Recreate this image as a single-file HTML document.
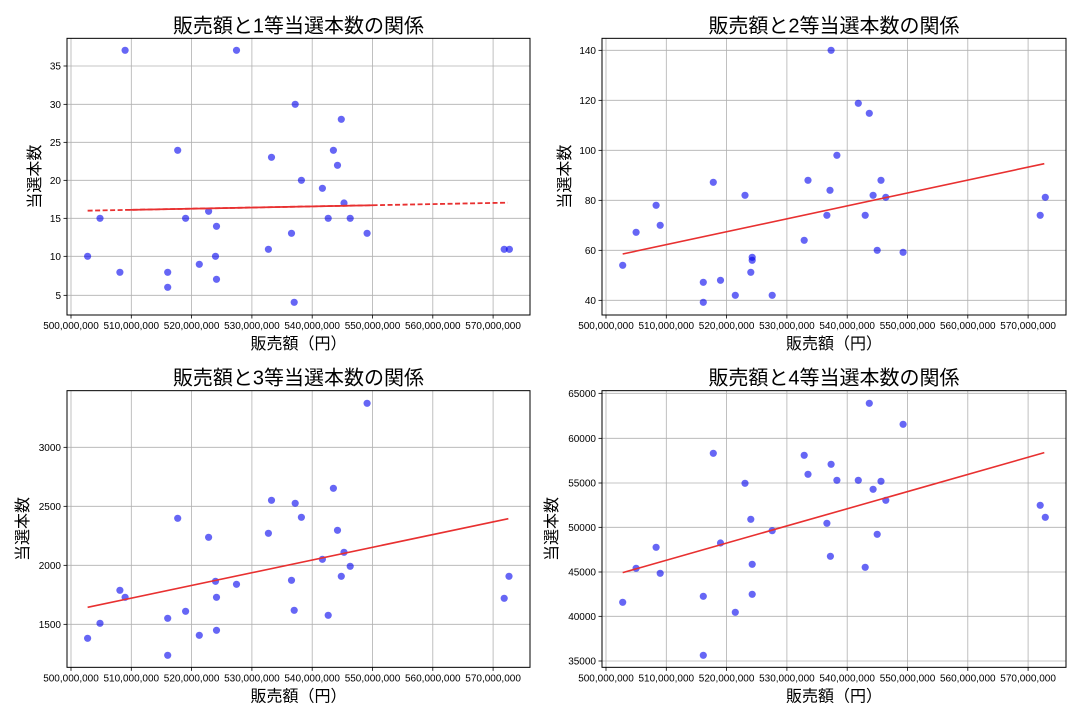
<!DOCTYPE html>
<html><head><meta charset="utf-8"><style>
html,body{margin:0;padding:0;background:#fff;}
svg{display:block;font-family:"Liberation Sans","Noto Sans CJK JP",sans-serif;}
</style></head><body>
<svg id="s" width="1080" height="720" xmlns="http://www.w3.org/2000/svg"></svg>
<script>
var S=document.getElementById('s'),out='';
var panels=[
{left:true,oy:0,ax:[193,1540],ay:[115,945],title:"販売額と1等当選本数の関係",lx:34,
 ticks:[[35,198],[30,313],[25,427],[20,541],[15,655],[10,769],[5,886]],
 pts:[[362,151],[686,151],[857,313],[991,358],[515,451],[968,451],[788,472],[980,496],[875,541],[936,565],[999,609],[605,634],[289,655],[538,655],[953,655],[1017,655],[628,679],[846,700],[1066,700],[779,748],[1465,748],[1480,748],[253,769],[625,769],[578,793],[347,817],[486,817],[628,838],[486,862],[854,907]],
 line:[[253,632],[1475,608]],dash:true},
{left:false,oy:0,ax:[178,1525],ay:[115,945],title:"販売額と2等当選本数の関係",lx:564,
 ticks:[[140,151],[120,301],[100,451],[80,601],[60,751],[40,901]],
 pts:[[843,151],[922,310],[954,340],[860,466],[501,547],[776,541],[988,541],[840,571],[593,586],[965,586],[1002,592],[1465,592],[335,616],[831,646],[942,646],[1450,646],[347,676],[277,697],[765,721],[977,751],[1052,757],[614,772],[614,781],[238,796],[610,817],[472,847],[522,841],[565,886],[672,886],[472,907]],
 line:[[238,762],[1462,491]]},
{left:true,oy:360,ax:[193,1540],ay:[92,922],title:"販売額と3等当選本数の関係",lx:22,
 ticks:[[3000,262],[2500,439],[2000,616],[1500,793]],
 pts:[[1066,130],[968,385],[788,421],[857,430],[515,475],[875,472],[980,511],[779,520],[605,532],[999,577],[936,598],[1017,619],[991,649],[1479,649],[846,661],[625,664],[686,673],[347,691],[362,712],[628,712],[1465,715],[538,754],[854,751],[953,766],[486,775],[289,790],[628,811],[578,826],[253,835],[486,886]],
 line:[[253,742],[1477,476]]},
{left:false,oy:360,ax:[178,1525],ay:[92,922],title:"販売額と4等当選本数の関係",lx:551,
 ticks:[[65000,100],[60000,235],[55000,369],[50000,502],[45000,636],[40000,769],[35000,903]],
 pts:[[954,130],[1052,193],[501,280],[765,286],[843,313],[776,343],[860,361],[922,361],[988,364],[593,370],[965,388],[1002,421],[1450,436],[1465,472],[610,478],[831,490],[672,512],[977,523],[522,549],[335,562],[841,589],[614,613],[277,625],[942,622],[347,640],[472,709],[614,703],[238,727],[565,757],[472,886]],
 line:[[238,638],[1462,278]]}
];
panels.forEach(function(p){
  var X0=p.left?67:602,X1=p.left?530:1066,zx0=p.ax[0],sc=(p.ax[1]-p.ax[0])/(X1-X0);
  var fx=function(z){return X0+(z-zx0)/sc;};
  var fy=function(z){return p.oy+z/3;};
  var T=fy(p.ay[0]),B=fy(p.ay[1]);
  var t0=p.left?71:606,step=60.3;
  for(var i=0;i<8;i++){var x=t0+i*step;
    out+='<line x1="'+x+'" y1="'+T+'" x2="'+x+'" y2="'+B+'" stroke="#b0b0b0" stroke-width="0.8"/>';
    out+='<line x1="'+x+'" y1="'+B+'" x2="'+x+'" y2="'+(B+3.5)+'" stroke="#000" stroke-width="0.8"/>';
    out+='<text x="'+x+'" y="'+(B+14)+'" font-size="10" text-anchor="middle">'+(500+i*10)+',000,000</text>';}
  p.ticks.forEach(function(t){var y=fy(t[1]);
    out+='<line x1="'+X0+'" y1="'+y+'" x2="'+X1+'" y2="'+y+'" stroke="#b0b0b0" stroke-width="0.8"/>';
    out+='<line x1="'+(X0-3.5)+'" y1="'+y+'" x2="'+X0+'" y2="'+y+'" stroke="#000" stroke-width="0.8"/>';
    out+='<text x="'+(X0-6)+'" y="'+(y+3.5)+'" font-size="10" text-anchor="end">'+t[0]+'</text>';});
  p.pts.forEach(function(q){out+='<circle cx="'+fx(q[0]).toFixed(1)+'" cy="'+fy(q[1]).toFixed(1)+'" r="3.6" fill="#0000ee" fill-opacity="0.6"/>';});
  var a=[fx(p.line[0][0]),fy(p.line[0][1])],b=[fx(p.line[1][0]),fy(p.line[1][1])];
  if(p.dash){
    out+='<line x1="'+a[0]+'" y1="'+a[1]+'" x2="'+b[0]+'" y2="'+b[1]+'" stroke="#e83030" stroke-width="1.8" stroke-dasharray="5,2.5"/>';
    var m1=0.1,m2=0.68;
    out+='<line x1="'+(a[0]+(b[0]-a[0])*m1)+'" y1="'+(a[1]+(b[1]-a[1])*m1)+'" x2="'+(a[0]+(b[0]-a[0])*m2)+'" y2="'+(a[1]+(b[1]-a[1])*m2)+'" stroke="#e83030" stroke-width="1.8"/>';
  } else out+='<line x1="'+a[0]+'" y1="'+a[1]+'" x2="'+b[0]+'" y2="'+b[1]+'" stroke="#e83030" stroke-width="1.6"/>';
  out+='<rect x="'+X0+'" y="'+T+'" width="'+(X1-X0)+'" height="'+(B-T)+'" fill="none" stroke="#000" stroke-width="1"/>';
  var cx=(X0+X1)/2;
  out+='<text x="'+cx+'" y="'+(T-6)+'" font-size="20" text-anchor="middle">'+p.title+'</text>';
  out+='<text x="'+cx+'" y="'+(B+34)+'" font-size="16" text-anchor="middle">販売額（円）</text>';
  var ly=(T+B)/2,lx=p.lx+6;
  out+='<text x="'+lx+'" y="'+ly+'" font-size="16" text-anchor="middle" transform="rotate(-90 '+lx+' '+ly+')">当選本数</text>';
});
S.innerHTML=out;
</script>
</body></html>
